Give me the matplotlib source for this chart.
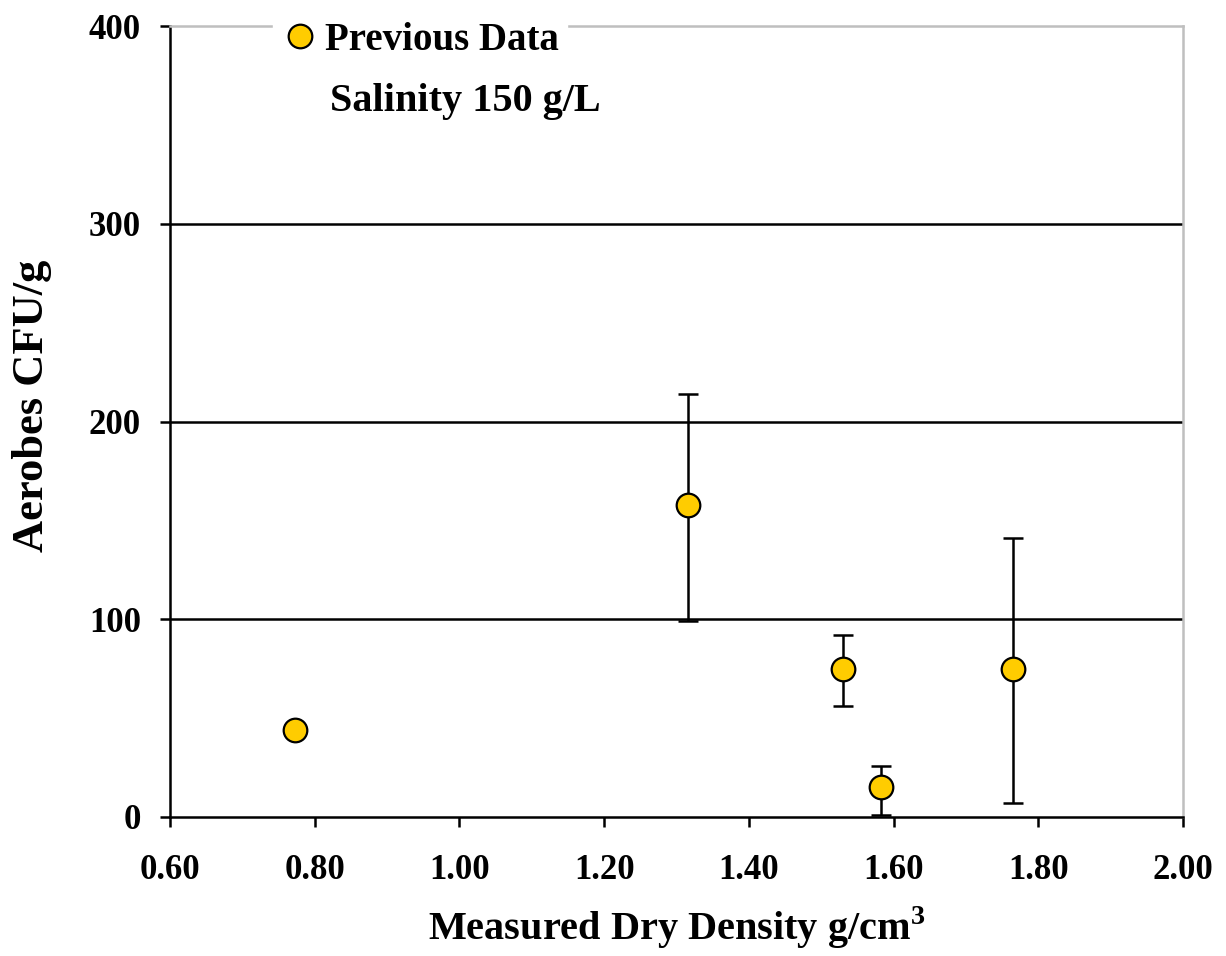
import matplotlib.pyplot as plt

# data
density = [0.773, 1.316, 1.530, 1.583, 1.765]
aerobes = [44, 158, 75, 15, 75]
err_lo = [0, 59, 19, 14, 68]
err_hi = [0, 56, 17, 11, 66]

plt.rcParams['font.family'] = ['Liberation Serif', 'DejaVu Serif']
plt.rcParams['font.weight'] = 'bold'
plt.rcParams['mathtext.fontset'] = 'custom'
plt.rcParams['mathtext.rm'] = 'Liberation Serif:bold'
plt.rcParams['mathtext.bf'] = 'Liberation Serif:bold'

fig = plt.figure(figsize=(12.26, 9.56), dpi=100)
ax = fig.add_axes([0.1387, 0.1454, 0.8263, 0.8274])

for yv in [100, 200, 300]:
    ax.axhline(yv, color='black', lw=1.8, zorder=1)

ax.errorbar(density, aerobes, yerr=[err_lo, err_hi], fmt='none', ecolor='black',
            elinewidth=1.8, capsize=7, capthick=1.8, zorder=2)
ax.plot(density, aerobes, 'o', color='#FFCC00', mec='black', mew=1.6, ms=17,
        zorder=3, label='Previous Data')

ax.set_xlim(0.6, 2.0)
ax.set_ylim(0, 400)
ax.set_xticks([0.6, 0.8, 1.0, 1.2, 1.4, 1.6, 1.8, 2.0])
ax.set_xticklabels(['0.60', '0.80', '1.00', '1.20', '1.40', '1.60', '1.80', '2.00'])
ax.set_yticks([0, 100, 200, 300, 400])
ax.tick_params(axis='both', labelsize=25, width=1.8, length=7, direction='out')
ax.tick_params(axis='x', pad=20)
ax.tick_params(axis='y', pad=14)

for s in ['left', 'bottom']:
    ax.spines[s].set_color('black')
    ax.spines[s].set_linewidth(1.8)
for s in ['top', 'right']:
    ax.spines[s].set_color('#BFBFBF')
    ax.spines[s].set_linewidth(1.8)

ax.set_xlabel('Measured Dry Density g/cm$^{3}$', fontsize=29, fontweight='bold', labelpad=12)
ax.set_ylabel('Aerobes CFU/g', fontsize=32, fontweight='bold')
ax.yaxis.set_label_coords(-0.117, 0.52)

leg = ax.legend(loc='upper left', bbox_to_anchor=(0.082, 1.04), fontsize=28, frameon=True,
                handletextpad=0.15, borderpad=0.2, handlelength=1.0)
leg.get_frame().set_edgecolor('white')
leg.get_frame().set_facecolor('white')
leg.get_frame().set_alpha(1)

ax.text(0.158, 0.905, 'Salinity 150 g/L', transform=ax.transAxes, fontsize=29,
        fontweight='bold', va='center', ha='left')

fig.savefig('out.png', dpi=100)
